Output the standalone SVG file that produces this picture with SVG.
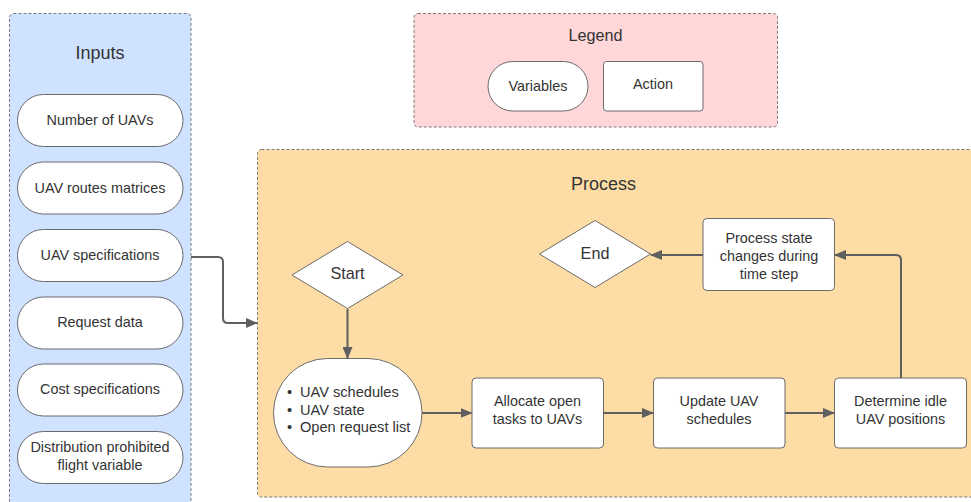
<svg xmlns="http://www.w3.org/2000/svg" width="971" height="502" viewBox="0 0 971 502">
  <style>
    .group { stroke: #7a7a7a; stroke-width: 1; stroke-dasharray: 3 2; }
    .node { fill: #ffffff; stroke: #6b6b6b; stroke-width: 1; }
    .title { font-family: "Liberation Sans", Arial, sans-serif; font-size: 18px; fill: #333333; text-anchor: middle; }
    .label { font-family: "Liberation Sans", Arial, sans-serif; font-size: 14.4px; fill: #333333; text-anchor: middle; }
    .term { font-family: "Liberation Sans", Arial, sans-serif; font-size: 16.2px; fill: #333333; text-anchor: middle; }
    .bullet { font-family: "Liberation Sans", Arial, sans-serif; font-size: 14.6px; fill: #333333; }
    .wire { fill: none; stroke: #5f5f5f; stroke-width: 2; marker-end: url(#head); }
  </style>
  <defs>
    <marker id="head" viewBox="0 0 12 10" refX="11" refY="5" markerWidth="12" markerHeight="10" markerUnits="userSpaceOnUse" orient="auto">
      <path d="M0,0 L12,5 L0,10 Z" fill="#5f5f5f"/>
    </marker>
  </defs>

  <rect width="971" height="502" fill="#ffffff"/>

  <!-- Inputs container -->
  <g id="inputs">
    <rect class="group" x="9.5" y="13.5" width="181.5" height="500" rx="4" fill="#cfe2ff"/>
    <text class="title" x="100" y="59">Inputs</text>
  </g>
  <g id="in-num-uavs">
    <rect class="node" x="17.5" y="94.5" width="165.5" height="52" rx="26"/>
    <text class="label" x="100" y="125">Number of UAVs</text>
  </g>
  <g id="in-routes">
    <rect class="node" x="17.5" y="162" width="165.5" height="52" rx="26"/>
    <text class="label" x="100" y="192.5">UAV routes matrices</text>
  </g>
  <g id="in-specs">
    <rect class="node" x="17.5" y="229.5" width="165.5" height="52" rx="26"/>
    <text class="label" x="100" y="260">UAV specifications</text>
  </g>
  <g id="in-requests">
    <rect class="node" x="17.5" y="297" width="165.5" height="52" rx="26"/>
    <text class="label" x="100" y="327">Request data</text>
  </g>
  <g id="in-cost">
    <rect class="node" x="17.5" y="364" width="165.5" height="52" rx="26"/>
    <text class="label" x="100" y="394">Cost specifications</text>
  </g>
  <g id="in-prohibited">
    <rect class="node" x="17.5" y="431.5" width="165.5" height="52" rx="26"/>
    <text class="label" x="100" y="452">Distribution prohibited</text>
    <text class="label" x="100" y="470">flight variable</text>
  </g>

  <!-- Legend -->
  <g id="legend">
    <rect class="group" x="414" y="13.5" width="363.5" height="113.5" rx="4" fill="#ffd7d9"/>
    <text class="term" x="595.5" y="41">Legend</text>
  </g>
  <g id="legend-variables">
    <rect class="node" x="488" y="61.5" width="100" height="49.5" rx="24.75"/>
    <text class="label" x="538" y="91">Variables</text>
  </g>
  <g id="legend-action">
    <rect class="node" x="603.5" y="61.5" width="99.5" height="49.5" rx="3"/>
    <text class="label" x="653" y="89">Action</text>
  </g>

  <!-- Process container -->
  <g id="process">
    <rect class="group" x="257.5" y="149.5" width="730" height="347.5" rx="4" fill="#fddca5"/>
    <text class="title" x="603.5" y="190">Process</text>
  </g>
  <g id="start">
    <path class="node" d="M347.5,241.5 L403,275 L347.5,308.5 L292,275 Z" stroke-linejoin="round"/>
    <text class="term" x="347.5" y="279">Start</text>
  </g>
  <g id="end">
    <path class="node" d="M595,220.5 L650.5,254 L595,287.5 L539.5,254 Z" stroke-linejoin="round"/>
    <text class="term" x="595" y="258.5">End</text>
  </g>
  <g id="state-vars">
    <rect class="node" x="273.5" y="358.5" width="148.5" height="108.5" rx="54"/>
    <text class="bullet" x="287" y="397">•</text>
    <text class="bullet" x="300" y="397">UAV schedules</text>
    <text class="bullet" x="287" y="414.5">•</text>
    <text class="bullet" x="300" y="414.5">UAV state</text>
    <text class="bullet" x="287" y="432">•</text>
    <text class="bullet" x="300" y="432">Open request list</text>
  </g>
  <g id="allocate">
    <rect class="node" x="472" y="378" width="131.5" height="70" rx="4"/>
    <text class="label" x="537.5" y="406">Allocate open</text>
    <text class="label" x="537.5" y="423.5">tasks to UAVs</text>
  </g>
  <g id="update">
    <rect class="node" x="653.5" y="378" width="131.5" height="70" rx="4"/>
    <text class="label" x="719" y="406">Update UAV</text>
    <text class="label" x="719" y="423.5">schedules</text>
  </g>
  <g id="determine">
    <rect class="node" x="834.5" y="378" width="132" height="70" rx="4"/>
    <text class="label" x="900.5" y="406">Determine idle</text>
    <text class="label" x="900.5" y="423.5">UAV positions</text>
  </g>
  <g id="state-changes">
    <rect class="node" x="703" y="218.5" width="131.5" height="72" rx="4"/>
    <text class="label" x="769" y="243">Process state</text>
    <text class="label" x="769" y="261">changes during</text>
    <text class="label" x="769" y="278.5">time step</text>
  </g>

  <!-- Connectors -->
  <g id="connectors">
    <path class="wire" d="M191,257 H218 Q223,257 223,262 V318 Q223,323 228,323 H257"/>
    <path class="wire" d="M347.5,309 V358"/>
    <path class="wire" d="M422,413 H471.5"/>
    <path class="wire" d="M603.5,413 H653"/>
    <path class="wire" d="M785,413 H834"/>
    <path class="wire" d="M901,378 V260 Q901,255 896,255 H835"/>
    <path class="wire" d="M703,255 H651"/>
  </g>
</svg>
